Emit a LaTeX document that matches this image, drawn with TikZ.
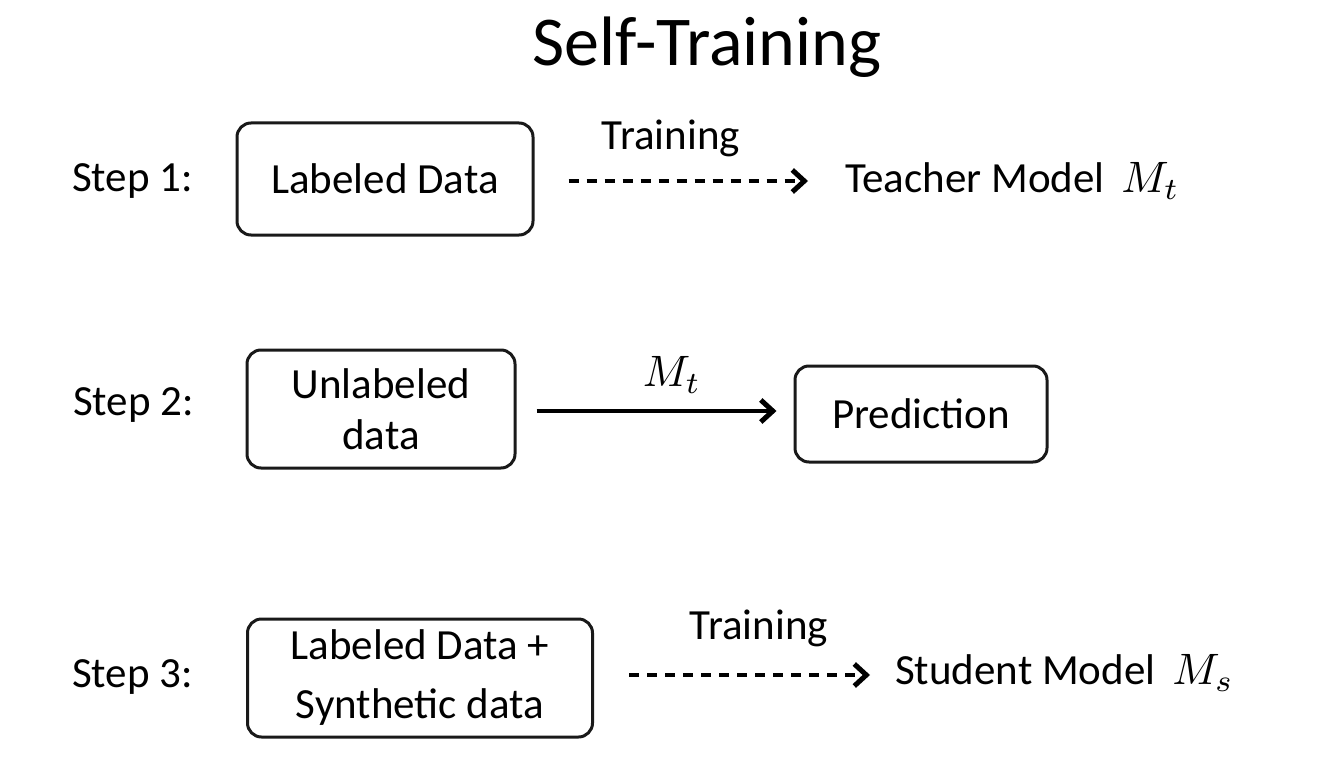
\documentclass[tikz,border=0pt]{standalone}
\usepackage{graphicx}
\usepackage{fontspec}
\setmainfont{Carlito}
\usetikzlibrary{arrows.meta}
\newcommand{\bigmath}[1]{{\fontsize{10}{12}\selectfont\scalebox{4.4}{$#1$}}}
\begin{document}
\begin{tikzpicture}[x=1pt,y=-1pt,
  box/.style={draw=black!90, line width=3pt, rounded corners=14pt, inner sep=0pt, align=center},
  lbl/.style={inner sep=0pt, font=\fontsize{43}{52}\selectfont},
  conn/.style={line width=4.5pt, -{Straight Barb[length=12pt,width=22pt,line width=5pt]}},
  dashconn/.style={conn, dash pattern=on 10pt off 8pt}
]
\useasboundingbox[fill=white] (0,0) rectangle (1332,778);
\node[inner sep=0pt, font=\fontsize{70}{80}\selectfont] (title) at (707,47) {Self-Training};

% Step 1
\node[lbl, anchor=west] (s1) at (72,181) {Step 1:};
\node[box, minimum width=296pt, minimum height=112pt, font=\fontsize{43}{52}\selectfont] (b1) at (385,179) {Labeled Data};
\node[lbl, anchor=west] (teacher) at (845,181) {Teacher Model\, \bigmath{M_t}};
\draw[dashconn, shorten <=34pt, shorten >=37pt] (b1.east |- teacher.west) -- (teacher.west);
\node[lbl] (tr1) at (671,138) {Training};

% Step 2
\node[lbl, anchor=west] (s2) at (73,405) {Step 2:};
\node[box, minimum width=268pt, minimum height=118pt, font=\fontsize{43}{51}\selectfont] (b2) at (381,409) {Unlabeled\\data};
\node[box, minimum width=252pt, minimum height=96pt, font=\fontsize{43}{52}\selectfont] (pred) at (921,414) {Prediction};
\draw[conn, shorten <=20pt, shorten >=17pt] (b2.east |- 0,411) -- (pred.west |- 0,411);
\node[inner sep=0pt] (mt) at (672,375) {\bigmath{M_t}};

% Step 3
\node[lbl, anchor=west] (s3) at (72,677) {Step 3:};
\node[box, minimum width=345pt, minimum height=118pt, font=\fontsize{43}{59}\selectfont] (b4) at (420,678) {Labeled Data +\\Synthetic data};
\node[lbl, anchor=west] (student) at (895,673) {Student Model\, \bigmath{M_s}};
\draw[dashconn, shorten <=35pt, shorten >=25pt] (b4.east |- 0,675) -- (student.west |- 0,675);
\node[lbl] (tr3) at (759,628) {Training};
\end{tikzpicture}
\end{document}
